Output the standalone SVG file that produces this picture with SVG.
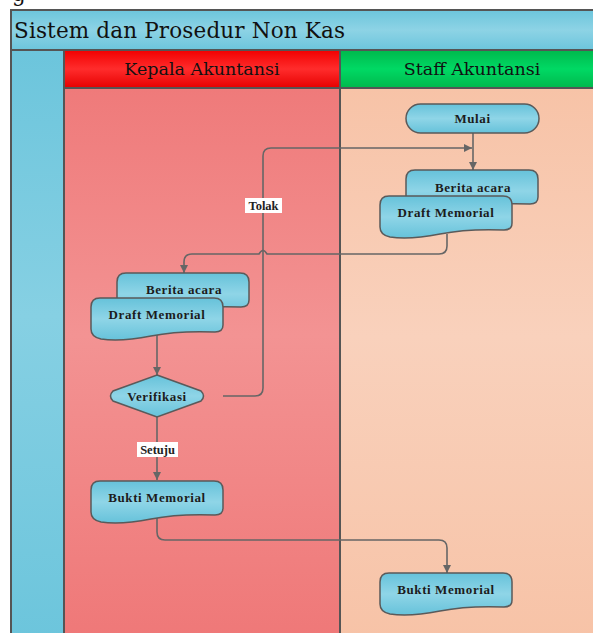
<svg xmlns="http://www.w3.org/2000/svg" width="593" height="633" viewBox="0 0 593 633">
<style>
.frame{stroke:#555;stroke-width:2}
.node{fill:url(#gNode);stroke:#5a5a5a;stroke-width:1.5}
.nt{font-family:"Liberation Serif",serif;font-weight:bold;font-size:13px;letter-spacing:0.6px;fill:#1c1c1c;text-anchor:middle;dominant-baseline:central}
.hd{font-family:"DejaVu Serif",serif;font-size:17.5px;fill:#111;text-anchor:middle}
.conn{fill:none;stroke:#666;stroke-width:1.6}
.lbl{font-family:"Liberation Serif",serif;font-weight:bold;font-size:12.5px;fill:#222;text-anchor:middle;dominant-baseline:central}
</style>
<defs>
<linearGradient id="gNode" x1="0" y1="0" x2="0" y2="1">
<stop offset="0" stop-color="#66c2da"/><stop offset="0.5" stop-color="#8fd5e7"/><stop offset="1" stop-color="#66c2da"/>
</linearGradient>
<linearGradient id="gBlue" x1="0" y1="0" x2="0" y2="1">
<stop offset="0" stop-color="#6cc5dc"/><stop offset="0.5" stop-color="#8dd3e5"/><stop offset="1" stop-color="#6cc5dc"/>
</linearGradient>
<linearGradient id="gCol" x1="0" y1="0" x2="0" y2="1">
<stop offset="0" stop-color="#6cc5dc"/><stop offset="0.45" stop-color="#86d0e3"/><stop offset="1" stop-color="#6cc5dc"/>
</linearGradient>
<linearGradient id="gRedH" x1="0" y1="0" x2="0" y2="1">
<stop offset="0" stop-color="#f20000"/><stop offset="0.5" stop-color="#ff2c2c"/><stop offset="1" stop-color="#e60000"/>
</linearGradient>
<linearGradient id="gGreenH" x1="0" y1="0" x2="0" y2="1">
<stop offset="0" stop-color="#00b84c"/><stop offset="0.5" stop-color="#00d964"/><stop offset="1" stop-color="#00b84c"/>
</linearGradient>
<linearGradient id="gRed" x1="0" y1="0" x2="0" y2="1">
<stop offset="0" stop-color="#ef7a7a"/><stop offset="0.45" stop-color="#f39393"/><stop offset="1" stop-color="#ef7878"/>
</linearGradient>
<linearGradient id="gPeach" x1="0" y1="0" x2="0" y2="1">
<stop offset="0" stop-color="#f7c3a7"/><stop offset="0.45" stop-color="#f9d1bc"/><stop offset="1" stop-color="#f7c3a7"/>
</linearGradient>
<path id="doc" d="M 0,9 Q 0,0 9,0 H 123 Q 132,0 132,9 V 27 Q 132,34 124,34 C 100,33 80,34 60,38 C 40,42 22,43 10,41 Q 0,39 0,31 Z"/>
<marker id="arr" viewBox="0 0 10 10" refX="10" refY="5" markerWidth="8" markerHeight="8" markerUnits="userSpaceOnUse" orient="auto">
<path d="M0,0 L10,5 L0,10 Z" fill="#666"/>
</marker>
</defs>

<g id="pool">
<text x="12" y="1" font-family="DejaVu Serif, serif" font-size="21.5" fill="#111">g</text>
<rect x="11" y="10" width="590" height="40" fill="url(#gBlue)" class="frame"/>
<text x="14" y="37.5" font-family="DejaVu Serif, serif" font-size="21.5" fill="#111" textLength="331">Sistem dan Prosedur Non Kas</text>
<rect x="11" y="50" width="53" height="590" fill="url(#gCol)" class="frame"/>
</g>
<g id="lane-kepala">
<rect x="64" y="88" width="276" height="550" fill="url(#gRed)" class="frame"/>
<rect x="64" y="50" width="276" height="38" fill="url(#gRedH)" class="frame"/>
<text class="hd" x="202" y="75" font-size="18">Kepala Akuntansi</text>
</g>
<g id="lane-staff">
<rect x="340" y="88" width="262" height="550" fill="url(#gPeach)" class="frame"/>
<rect x="340" y="50" width="262" height="38" fill="url(#gGreenH)" class="frame"/>
<text class="hd" x="472" y="75" font-size="18">Staff Akuntansi</text>
</g>

<g id="connectors">
<path class="conn" d="M473,133 V170" marker-end="url(#arr)"/>
<path class="conn" d="M223,396 H255 Q263,396 263,388 V156 Q263,148 271,148 H472" marker-end="url(#arr)"/>
<path class="conn" d="M447,234 V246 Q447,254 439,254 H267 Q263,247 259,254 H192 Q184,254 184,262 V273" marker-end="url(#arr)"/>
<path class="conn" d="M157,334 V375" marker-end="url(#arr)"/>
<path class="conn" d="M157,417 V480" marker-end="url(#arr)"/>
<path class="conn" d="M157,516 V532 Q157,540 165,540 H439 Q447,540 447,548 V573" marker-end="url(#arr)"/>
<rect x="245" y="198" width="37" height="15" fill="#fff"/>
<text class="lbl" x="263.5" y="205.5">Tolak</text>
<rect x="137" y="442" width="41" height="15" fill="#fff"/>
<text class="lbl" x="157.5" y="449.5">Setuju</text>
</g>

<g id="mulai">
<rect x="406" y="104" width="133" height="29" rx="14.5" class="node"/>
<text class="nt" x="472.5" y="118.5">Mulai</text>
</g>
<g id="staff-berita-acara">
<use href="#doc" x="406" y="170" class="node"/>
<text class="nt" x="473" y="187">Berita acara</text>
</g>
<g id="staff-draft-memorial">
<use href="#doc" x="380" y="196" class="node"/>
<text class="nt" x="446" y="212">Draft Memorial</text>
</g>
<g id="kepala-berita-acara">
<use href="#doc" x="117" y="273" class="node"/>
<text class="nt" x="184" y="289">Berita acara</text>
</g>
<g id="kepala-draft-memorial">
<use href="#doc" x="91" y="298" class="node"/>
<text class="nt" x="157" y="314">Draft Memorial</text>
</g>
<g id="verifikasi">
<path d="M157,375 L201,391 Q206,396 201,401 L157,417 L113,401 Q108,396 113,391 Z" class="node"/>
<text class="nt" x="157" y="396">Verifikasi</text>
</g>
<g id="kepala-bukti-memorial">
<use href="#doc" x="91" y="481" class="node"/>
<text class="nt" x="157" y="497">Bukti Memorial</text>
</g>
<g id="staff-bukti-memorial">
<use href="#doc" x="380" y="573" class="node"/>
<text class="nt" x="446" y="589">Bukti Memorial</text>
</g>
</svg>
